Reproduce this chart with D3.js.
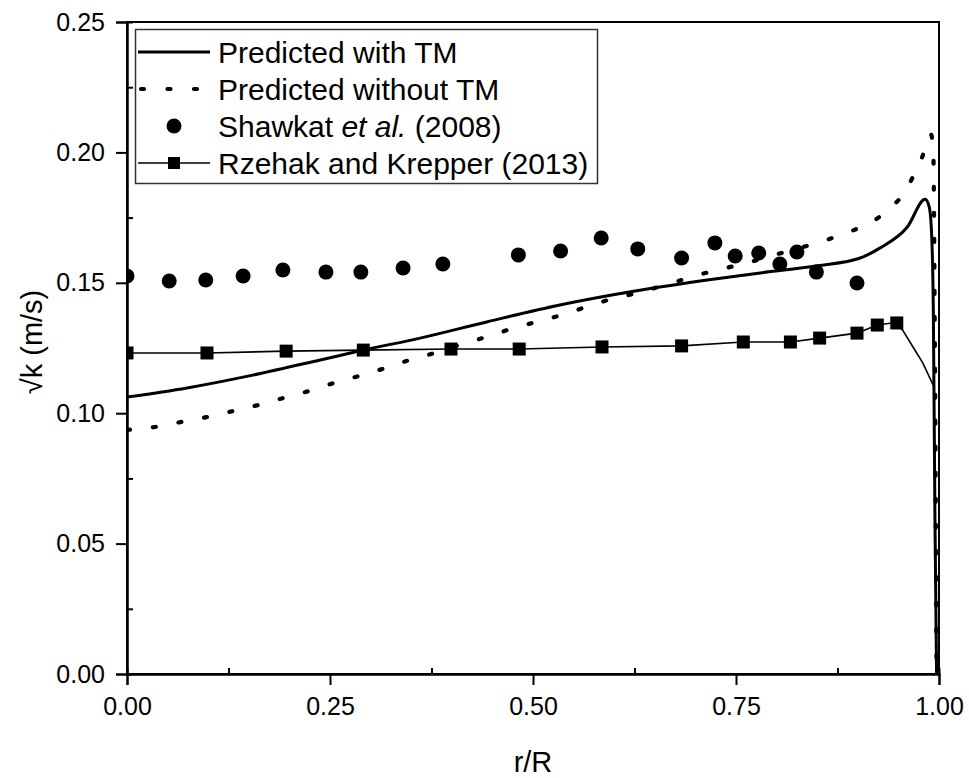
<!DOCTYPE html>
<html>
<head>
<meta charset="utf-8">
<script src="https://cdn.jsdelivr.net/npm/d3@7"></script>
<style>
  html, body { margin: 0; padding: 0; background: #fff; }
  svg { display: block; font-family: "Liberation Sans", Arial, sans-serif; }
</style>
</head>
<body>
<svg id="chart" width="969" height="778"></svg>
<script>
// ---------------- data ----------------
const xTicks = [0, 0.25, 0.5, 0.75, 1.0];
const xMinorTicks = [0.125, 0.375, 0.625, 0.875];
const yTicks = [0, 0.05, 0.10, 0.15, 0.20, 0.25];
const yMinorTicks = [0.025, 0.075, 0.125, 0.175, 0.225];

const seriesNames = ["Predicted with TM", "Predicted without TM", "Shawkat et al. (2008)", "Rzehak and Krepper (2013)"];

// Predicted with TM (solid)
const withTM_r = [0, 0.074, 0.155, 0.238, 0.291, 0.361, 0.443, 0.533, 0.656, 0.780, 0.850, 0.903, 0.927, 0.961, 0.983, 0.988, 0.991, 0.993, 0.995, 0.997];
const withTM_v = [0.1062, 0.1097, 0.1146, 0.1204, 0.1242, 0.1288, 0.1350, 0.1415, 0.1484, 0.1538, 0.1565, 0.1595, 0.1633, 0.1714, 0.1820, 0.1790, 0.1680, 0.1400, 0.0600, 0.0];

// Predicted without TM (dotted)
const withoutTM_r = [0, 0.034, 0.066, 0.098, 0.130, 0.161, 0.192, 0.224, 0.255, 0.286, 0.318, 0.348, 0.379, 0.410, 0.442, 0.473, 0.504, 0.536, 0.565, 0.597, 0.628, 0.659, 0.708, 0.738, 0.768, 0.798, 0.857, 0.885, 0.925, 0.943, 0.958, 0.970, 0.979, 0.986, 0.990, 0.993, 0.995, 0.997];
const withoutTM_v = [0.0936, 0.0947, 0.0966, 0.0985, 0.1008, 0.1031, 0.1058, 0.1085, 0.1116, 0.1143, 0.1173, 0.1204, 0.1231, 0.1262, 0.1292, 0.1323, 0.1350, 0.1377, 0.1407, 0.1438, 0.1461, 0.1488, 0.1534, 0.1557, 0.1580, 0.1607, 0.1660, 0.1690, 0.1749, 0.1795, 0.1848, 0.1920, 0.1980, 0.2040, 0.2070, 0.2000, 0.1200, 0.0];

// Shawkat et al. (2008) experiment (circles)
const shawkat_r = [0, 0.052, 0.097, 0.143, 0.192, 0.245, 0.288, 0.340, 0.389, 0.482, 0.534, 0.584, 0.629, 0.683, 0.724, 0.749, 0.778, 0.804, 0.825, 0.849, 0.899];
const shawkat_v = [0.1526, 0.1507, 0.1511, 0.1526, 0.1549, 0.1541, 0.1541, 0.1557, 0.1572, 0.1607, 0.1622, 0.1672, 0.1630, 0.1595, 0.1653, 0.1603, 0.1614, 0.1572, 0.1618, 0.1541, 0.1499];

// Rzehak and Krepper (2013): markers and line
const rzehakMark_r = [0, 0.0985, 0.196, 0.291, 0.399, 0.483, 0.585, 0.683, 0.759, 0.817, 0.853, 0.899, 0.924, 0.948];
const rzehakMark_v = [0.1231, 0.1231, 0.1238, 0.1242, 0.1246, 0.1246, 0.1254, 0.1258, 0.1273, 0.1273, 0.1288, 0.1307, 0.1338, 0.1346];
const rzehakLine_r = [0, 0.0985, 0.196, 0.291, 0.399, 0.483, 0.585, 0.683, 0.759, 0.817, 0.853, 0.899, 0.924, 0.942, 0.955, 0.968, 0.980, 0.994];
const rzehakLine_v = [0.1231, 0.1231, 0.1238, 0.1242, 0.1246, 0.1246, 0.1254, 0.1258, 0.1273, 0.1273, 0.1288, 0.1307, 0.1338, 0.1346, 0.1320, 0.1254, 0.1193, 0.1100];

const xTitle = "r/R";
const yTitle = "\u221Ak (m/s)";

// ---------------- drawing ----------------
const svg = d3.select("#chart");
const W = 969, H = 778;
const m = { left: 127, right: 30, top: 22, bottom: 104 };
const x = d3.scaleLinear().domain([0, 1]).range([m.left, W - m.right]);
const y = d3.scaleLinear().domain([0, 0.25]).range([H - m.bottom, m.top]);

const zip = (a, b) => a.map((d, i) => [d, b[i]]);

svg.append("defs").append("clipPath").attr("id", "plotclip")
  .append("rect")
  .attr("x", x(0)).attr("y", y(0.25))
  .attr("width", x(1) - x(0)).attr("height", y(0) - y(0.25));

const plot = svg.append("g").attr("clip-path", "url(#plotclip)");

const lineMono = d3.line().x(d => x(d[0])).y(d => y(d[1])).curve(d3.curveMonotoneX);
const lineLin = d3.line().x(d => x(d[0])).y(d => y(d[1]));

// Rzehak line
plot.append("path")
  .datum(zip(rzehakLine_r, rzehakLine_v))
  .attr("d", lineLin)
  .attr("fill", "none").attr("stroke", "#000").attr("stroke-width", 1.6);

// without TM dotted
plot.append("path")
  .datum(zip(withoutTM_r, withoutTM_v))
  .attr("d", lineMono)
  .attr("fill", "none").attr("stroke", "#000").attr("stroke-width", 4.2)
  .attr("stroke-linecap", "round")
  .attr("stroke-dasharray", "3 23");

// with TM solid
plot.append("path")
  .datum(zip(withTM_r, withTM_v))
  .attr("d", lineMono)
  .attr("fill", "none").attr("stroke", "#000").attr("stroke-width", 3);

// Shawkat circles
plot.selectAll("circle.sh")
  .data(zip(shawkat_r, shawkat_v))
  .join("circle").attr("class", "sh")
  .attr("cx", d => x(d[0])).attr("cy", d => y(d[1]))
  .attr("r", 7.5).attr("fill", "#000");

// Rzehak squares
const sq = 13;
plot.selectAll("rect.rz")
  .data(zip(rzehakMark_r, rzehakMark_v))
  .join("rect").attr("class", "rz")
  .attr("x", d => x(d[0]) - sq / 2).attr("y", d => y(d[1]) - sq / 2)
  .attr("width", sq).attr("height", sq).attr("fill", "#000");

// frame
svg.append("rect")
  .attr("x", x(0)).attr("y", y(0.25))
  .attr("width", x(1) - x(0)).attr("height", y(0) - y(0.25))
  .attr("fill", "none").attr("stroke", "#000").attr("stroke-width", 2);

// axes
const fmt = d3.format(".2f");
const gx = svg.append("g").attr("transform", `translate(0,${y(0)})`)
  .call(d3.axisBottom(x).tickValues(xTicks).tickFormat(fmt).tickSize(11).tickPadding(12));
const gxm = svg.append("g").attr("transform", `translate(0,${y(0)})`)
  .call(d3.axisBottom(x).tickValues(xMinorTicks).tickFormat("").tickSize(-6));
const gy = svg.append("g").attr("transform", `translate(${x(0)},0)`)
  .call(d3.axisLeft(y).tickValues(yTicks).tickFormat(fmt).tickSize(11).tickPadding(11));
const gym = svg.append("g").attr("transform", `translate(${x(0)},0)`)
  .call(d3.axisLeft(y).tickValues(yMinorTicks).tickFormat("").tickSize(-6));

[gx, gxm, gy, gym].forEach(g => {
  g.select(".domain").attr("stroke", "#000").attr("stroke-width", 2);
  g.selectAll(".tick line").attr("stroke", "#000").attr("stroke-width", 2);
  g.selectAll(".tick text").attr("fill", "#000")
    .style("font-family", "'Liberation Sans', Arial, sans-serif").style("font-size", "25px");
});

// axis titles
svg.append("text")
  .attr("x", (x(0) + x(1)) / 2).attr("y", 772)
  .attr("text-anchor", "middle")
  .style("font-size", "29px").attr("fill", "#000")
  .text(xTitle);

svg.append("text")
  .attr("transform", `translate(42,${342}) rotate(-90)`)
  .attr("text-anchor", "middle")
  .style("font-size", "29px").attr("fill", "#000")
  .text(yTitle);

// legend
const lg = svg.append("g");
lg.append("rect").attr("x", 135.5).attr("y", 29.5).attr("width", 462).attr("height", 154)
  .attr("fill", "#fff").attr("stroke", "#333").attr("stroke-width", 1.5);
const rowY = [52, 89, 126, 163];
const sx0 = 138, sx1 = 210, sxm = 174;
lg.selectAll("text.lt").data(seriesNames).join("text").attr("class", "lt")
  .attr("x", 218).attr("y", (d, i) => rowY[i]).attr("dy", "0.35em")
  .style("font-size", "30px").attr("fill", "#000")
  .each(function(d) {
    const t = d3.select(this);
    if (d.includes("et al.")) {
      t.append("tspan").text("Shawkat ");
      t.append("tspan").style("font-style", "italic").text("et al.");
      t.append("tspan").text(" (2008)");
    } else {
      t.text(d);
    }
  });
lg.append("line").attr("x1", sx0).attr("x2", sx1).attr("y1", rowY[0]).attr("y2", rowY[0])
  .attr("stroke", "#000").attr("stroke-width", 3);
lg.append("line").attr("x1", sx0 + 3).attr("x2", sx1).attr("y1", rowY[1]).attr("y2", rowY[1])
  .attr("stroke", "#000").attr("stroke-width", 4.2).attr("stroke-linecap", "round")
  .attr("stroke-dasharray", "3 23.5");
lg.append("circle").attr("cx", sxm).attr("cy", rowY[2]).attr("r", 7.5).attr("fill", "#000");
lg.append("line").attr("x1", sx0).attr("x2", sx1).attr("y1", rowY[3]).attr("y2", rowY[3])
  .attr("stroke", "#000").attr("stroke-width", 1.6);
lg.append("rect").attr("x", sxm - 6).attr("y", rowY[3] - 6).attr("width", 12).attr("height", 12).attr("fill", "#000");
</script>
</body>
</html>
